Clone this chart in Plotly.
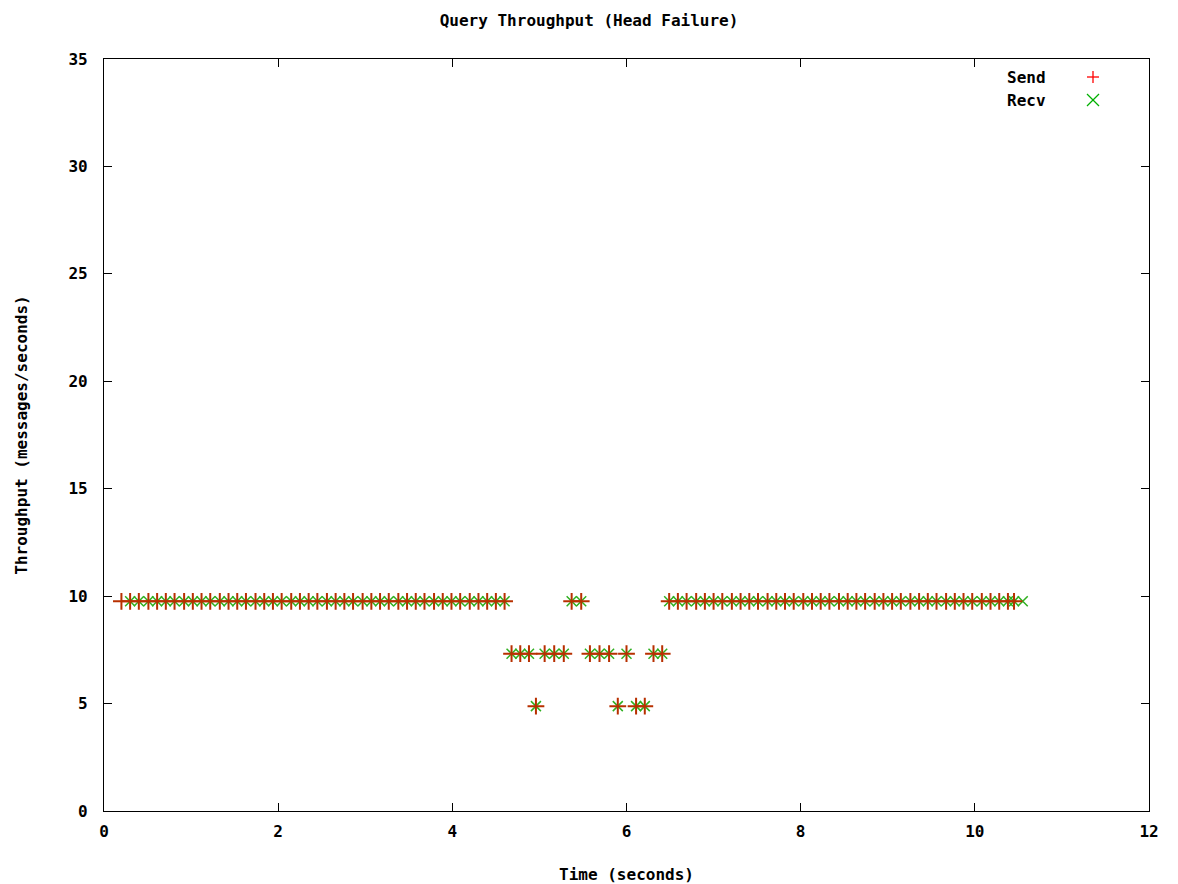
import plotly.graph_objects as go

# ---- data ----
run1_t = [0.30, 0.40, 0.51, 0.61, 0.71, 0.81, 0.92, 1.02, 1.12, 1.22, 1.33, 1.43,
          1.53, 1.63, 1.74, 1.84, 1.94, 2.04, 2.15, 2.25, 2.35, 2.45, 2.56, 2.66,
          2.76, 2.86, 2.97, 3.07, 3.17, 3.27, 3.38, 3.48, 3.58, 3.68, 3.79, 3.89,
          3.99, 4.09, 4.20, 4.30, 4.40, 4.50, 4.60]
run1_v = [9.76] * len(run1_t)

mid_t = [4.68, 4.78, 4.88, 4.96, 5.06, 5.17, 5.28, 5.37, 5.48, 5.58, 5.69, 5.80,
         5.90, 6.00, 6.11, 6.21, 6.31, 6.41]
mid_v = [7.32, 7.32, 7.32, 4.88, 7.32, 7.32, 7.32, 9.76, 9.76, 7.32, 7.32, 7.32,
         4.88, 7.32, 4.88, 4.88, 7.32, 7.32]

run2_t = [6.49, 6.59, 6.69, 6.80, 6.90, 7.00, 7.10, 7.21, 7.31, 7.41, 7.51, 7.62,
          7.72, 7.82, 7.92, 8.03, 8.13, 8.23, 8.33, 8.44, 8.54, 8.64, 8.74, 8.85,
          8.95, 9.05, 9.15, 9.26, 9.36, 9.46, 9.56, 9.67, 9.77, 9.87, 9.97, 10.08,
          10.18, 10.28, 10.38, 10.45]
run2_v = [9.76] * len(run2_t)

send_extra_t = [0.20]
send_extra_v = [9.76]
recv_extra_t = [10.55]
recv_extra_v = [9.76]

send_t = send_extra_t + run1_t + mid_t + run2_t
send_v = send_extra_v + run1_v + mid_v + run2_v
recv_t = run1_t + mid_t + run2_t + recv_extra_t
recv_v = run1_v + mid_v + run2_v + recv_extra_v

x_ticks = [0, 2, 4, 6, 8, 10, 12]
y_ticks = [0, 5, 10, 15, 20, 25, 30, 35]

RED = "#ff0000"
GREEN = "#00b000"
FONT = "DejaVu Sans Mono"

fig = go.Figure()
fig.add_trace(go.Scatter(
    x=recv_t, y=recv_v, mode="markers", name="Recv",
    marker=dict(symbol="x-thin-open", size=10, color="#2fb020",
                line=dict(color="#2fb020", width=1.5)),
))
fig.add_trace(go.Scatter(
    x=send_t, y=send_v, mode="markers", name="Send",
    marker=dict(symbol="cross-thin-open", size=12, color="#b83000",
                line=dict(color="#b83000", width=2)),
))

L, R, T, B = 104, 29, 59, 73
W, H = 1178, 884
pw, ph = W - L - R, H - T - B


def px2paper(px, py):
    return (px - L) / pw, (H - B - py) / ph


shapes = []
# legend "+"
cx, cy = 1093, 77
for (x0, y0, x1, y1) in [(cx - 6, cy, cx + 6, cy), (cx, cy - 6, cx, cy + 6)]:
    a = px2paper(x0, y0); b = px2paper(x1, y1)
    shapes.append(dict(type="line", xref="paper", yref="paper", x0=a[0], y0=a[1],
                       x1=b[0], y1=b[1], line=dict(color=RED, width=1.3)))
# legend "x"
cx, cy = 1093, 100
for (x0, y0, x1, y1) in [(cx - 6, cy - 6, cx + 6, cy + 6), (cx - 6, cy + 6, cx + 6, cy - 6)]:
    a = px2paper(x0, y0); b = px2paper(x1, y1)
    shapes.append(dict(type="line", xref="paper", yref="paper", x0=a[0], y0=a[1],
                       x1=b[0], y1=b[1], line=dict(color=GREEN, width=1.3)))

annotations = []
for label, py in [("Send", 77), ("Recv", 100)]:
    ax, ay = px2paper(1048, py)
    annotations.append(dict(text=label, xref="paper", yref="paper", x=ax, y=ay,
                            xanchor="right", yanchor="middle", showarrow=False,
                            font=dict(family=FONT, size=16, color="black", weight="bold")))

fig.update_layout(
    width=W, height=H,
    margin=dict(l=L, r=R, t=T, b=B),
    paper_bgcolor="white", plot_bgcolor="white",
    showlegend=False,
    title=dict(text="Query Throughput (Head Failure)", x=0.5, xanchor="center",
               y=1 - 20 / H, yanchor="middle",
               font=dict(family=FONT, size=16, color="black", weight="bold")),
    font=dict(family=FONT, size=15, color="black", weight="bold"),
    shapes=shapes,
    annotations=annotations,
)
fig.update_xaxes(
    range=[0, 12], tickvals=x_ticks, ticktext=[str(v) for v in x_ticks],
    showline=True, linecolor="black", linewidth=1.2, mirror="ticks",
    ticks="inside", ticklen=8, tickcolor="black", showgrid=False, zeroline=False,
    automargin=False, ticklabelstandoff=6,
    title=dict(text="Time (seconds)", standoff=28,
               font=dict(family=FONT, size=16, color="black", weight="bold")),
    tickfont=dict(family=FONT, size=16, color="black", weight="bold"),
)
fig.update_yaxes(
    range=[0, 35], tickvals=y_ticks, ticktext=[str(v) for v in y_ticks],
    showline=True, linecolor="black", linewidth=1.2, mirror="ticks",
    ticks="inside", ticklen=8, tickcolor="black", showgrid=False, zeroline=False,
    automargin=False, ticklabelstandoff=12,
    title=dict(text="Throughput (messages/seconds)", standoff=36,
               font=dict(family=FONT, size=16, color="black", weight="bold")),
    tickfont=dict(family=FONT, size=16, color="black", weight="bold"),
)

fig.write_html("out.html")
